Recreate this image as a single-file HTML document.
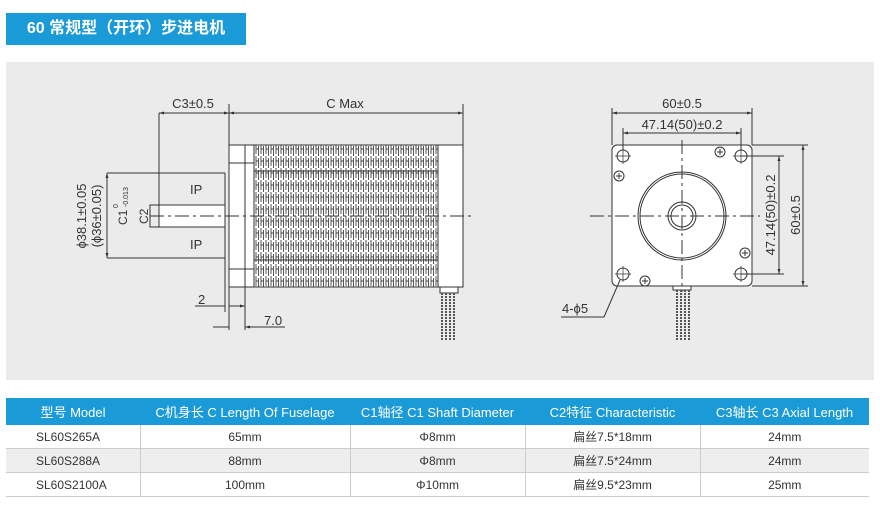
<!DOCTYPE html>
<html><head><meta charset="utf-8"><style>
body{margin:0;width:880px;height:519px;background:#fff;font-family:"Liberation Sans","Noto Sans CJK SC",sans-serif;position:relative;overflow:hidden}
.hd{position:absolute;left:6px;top:13px;width:240px;height:32px;background:#1a9ad6;color:#fff;font-weight:bold;font-size:16px;line-height:32px;text-align:center}
.panel{position:absolute;left:6px;top:62px;width:868px;height:318px;background:#ebebeb}
table{position:absolute;left:6px;top:398px;width:863px;border-collapse:collapse;font-size:12px;color:#333;table-layout:fixed}
th{background:#1a9ad6;color:#fff;font-weight:normal;height:27px;font-size:13px;padding:0;white-space:nowrap}
td{height:23px;padding:0;text-align:center;border-right:1px solid #ccc;border-bottom:1px solid #ccc}
td:last-child{border-right:none}
tr.g td{background:#eee}
td:first-child{text-align:left;padding-left:30px}
</style></head><body>
<div class="hd">60 常规型（开环）步进电机</div>
<div class="panel"></div>
<svg style="position:absolute;left:0;top:0" width="880" height="519" font-family="Liberation Sans,sans-serif" fill="none" stroke="#333" stroke-width="1">
<defs>
<pattern id="rib" width="5" height="12" patternUnits="userSpaceOnUse"><rect width="5" height="12" fill="#fff" stroke="none"/><path d="M1 0V10M3.5 2V12M1 5H3.5" stroke="#444" stroke-width="0.9"/></pattern>
<marker id="a" viewBox="0 0 10 10" refX="10" refY="5" markerWidth="7" markerHeight="5" orient="auto-start-reverse"><path d="M0 2L10 5L0 8z" fill="#333" stroke="none"/></marker>
</defs>
<rect x="229" y="145" width="234" height="142" fill="#fff"/>
<rect x="254" y="145" width="184" height="142" fill="url(#rib)"/>
<path d="M245 145V287M254 171H438M254 260H438M229 163H245M229 269H245M245 163H254V171M245 269H254V260"/>
<path d="M225 173V258M107 173H225M107 258H225"/>
<rect x="159" y="205" width="66" height="22" fill="#fff"/>
<rect x="150" y="205" width="9" height="22"/>
<path d="M150 216H475" stroke-dasharray="14 4 3 4"/>
<path d="M159 113V205M229 104V145M463 104V145"/>
<path d="M159 113H229" marker-start="url(#a)" marker-end="url(#a)"/>
<path d="M229 113H463" marker-start="url(#a)" marker-end="url(#a)"/>
<path d="M107 173V258" marker-start="url(#a)" marker-end="url(#a)"/>
<path d="M195 306H225M229 306H245" marker-end="url(#a)"/>
<path d="M225 258V312M229 287V330M245 287V330"/>
<path d="M213 327H229M285 327H245" marker-end="url(#a)"/>
<rect x="440" y="287" width="18" height="6" fill="#fff"/>
<path d="M442 293V340M446 293V340M450 293V340M454 293V340" stroke="#555" stroke-width="2" stroke-dasharray="2 1"/>
<g fill="#333" stroke="none" font-size="13">
<text x="193" y="108" text-anchor="middle">C3±0.5</text>
<text x="345" y="108" text-anchor="middle">C Max</text>
<text x="190" y="194">IP</text><text x="190" y="249">IP</text>
<text x="198" y="304">2</text><text x="264" y="325">7.0</text>
<text transform="translate(86,216) rotate(-90)" text-anchor="middle">ϕ38.1±0.05</text>
<text transform="translate(101,216) rotate(-90)" text-anchor="middle">(ϕ36±0.05)</text>
<text transform="translate(127,225) rotate(-90)" font-size="12">C1</text>
<text transform="translate(118,208) rotate(-90)" font-size="7">0</text>
<text transform="translate(128,207) rotate(-90)" font-size="7">-0.013</text>
<text transform="translate(148,224) rotate(-90)" font-size="12">C2</text>
</g>
<rect x="612" y="145" width="140" height="141" rx="5" fill="#fff"/>
<circle cx="682" cy="216" r="44"/><circle cx="682" cy="216" r="42"/>
<circle cx="682" cy="216" r="14"/><circle cx="682" cy="216" r="11"/>
<g><circle cx="623" cy="156" r="6"/><circle cx="741" cy="156" r="6"/><circle cx="623" cy="274" r="6"/><circle cx="741" cy="274" r="6"/>
<path d="M615 156H631M623 148V164M733 156H749M741 148V164M615 274H631M623 266V282M733 274H749M741 266V282" stroke-width="0.7"/></g>
<g><circle cx="720" cy="152" r="5"/><circle cx="619" cy="176" r="5"/><circle cx="745" cy="253" r="5"/><circle cx="645" cy="281" r="5"/>
<path d="M717 152H723M720 149V155M616 176H622M619 173V179M742 253H748M745 250V256M642 281H648M645 278V284"/></g>
<path d="M590 216H760M682 140V292" stroke-dasharray="14 4 3 4"/>
<path d="M612 108V145M752 108V145M623 128V150M741 128V150M752 145H808M741 156H784M741 274H784M752 286H808"/>
<path d="M612 113H752" marker-start="url(#a)" marker-end="url(#a)"/>
<path d="M623 133H741" marker-start="url(#a)" marker-end="url(#a)"/>
<path d="M779 156V274" marker-start="url(#a)" marker-end="url(#a)"/>
<path d="M803 145V286" marker-start="url(#a)" marker-end="url(#a)"/>
<path d="M561 317H604L620 280"/>
<rect x="673" y="286" width="18" height="4" fill="#fff"/>
<path d="M677 290V340M681 290V340M685 290V340M689 290V340" stroke="#555" stroke-width="2" stroke-dasharray="2 1"/>
<g fill="#333" stroke="none" font-size="13">
<text x="682" y="108" text-anchor="middle">60±0.5</text>
<text x="682" y="129" text-anchor="middle">47.14(50)±0.2</text>
<text transform="translate(775,215) rotate(-90)" text-anchor="middle">47.14(50)±0.2</text>
<text transform="translate(800,215) rotate(-90)" text-anchor="middle">60±0.5</text>
<text x="562" y="313">4-ϕ5</text>
</g>
</svg>
<table>
<colgroup><col style="width:134px"><col style="width:210px"><col style="width:175px"><col style="width:175px"><col></colgroup>
<tr><th>型号 Model</th><th>C机身长 C Length Of Fuselage</th><th>C1轴径 C1 Shaft Diameter</th><th>C2特征 Characteristic</th><th>C3轴长 C3 Axial Length</th></tr>
<tr><td>SL60S265A</td><td>65mm</td><td>Φ8mm</td><td>扁丝7.5*18mm</td><td>24mm</td></tr>
<tr class="g"><td>SL60S288A</td><td>88mm</td><td>Φ8mm</td><td>扁丝7.5*24mm</td><td>24mm</td></tr>
<tr><td>SL60S2100A</td><td>100mm</td><td>Φ10mm</td><td>扁丝9.5*23mm</td><td>25mm</td></tr>
</table>
</body></html>
